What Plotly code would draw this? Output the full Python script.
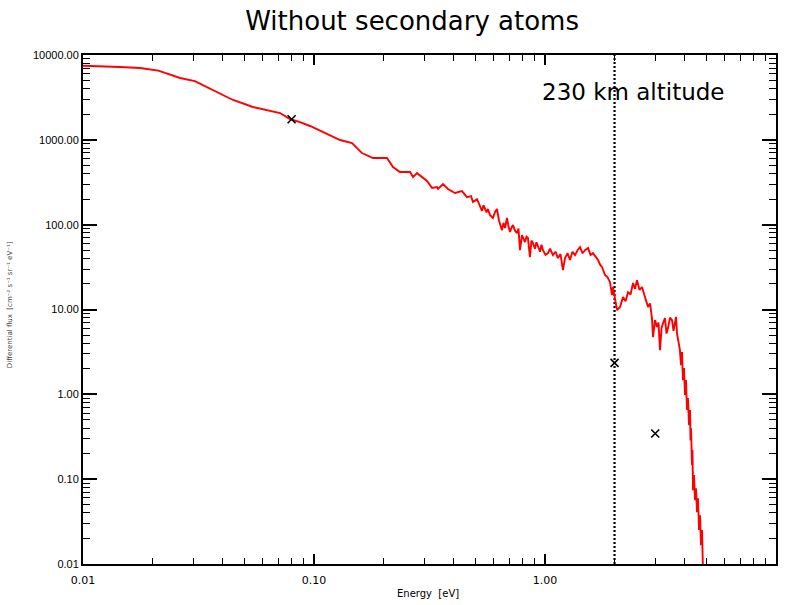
import plotly.graph_objects as go

# Energy spectrum of the fast atoms (eV) and their flux
energy = [
    0.0100, 0.01185, 0.01445, 0.01766, 0.0195, 0.0212, 0.02264, 0.0263, 0.0305, 0.0366,
    0.0446, 0.0544, 0.0665, 0.0713, 0.0787, 0.0869, 0.0961, 0.1173, 0.1297, 0.1462,
    0.1614, 0.1800, 0.2070, 0.2198, 0.2355, 0.2605, 0.2684, 0.2793, 0.3085, 0.3243,
    0.3408, 0.3443, 0.3617, 0.3800, 0.4074, 0.4372, 0.4596, 0.4783, 0.4879, 0.5077,
    0.5337, 0.5418, 0.5496, 0.5579, 0.5662, 0.5776, 0.5952, 0.6072, 0.6196, 0.6321,
    0.6513, 0.6611, 0.6711, 0.6846, 0.6949, 0.7055, 0.7162, 0.7269, 0.7415, 0.7564,
    0.7678, 0.7793, 0.7950, 0.8070, 0.8190, 0.8314, 0.8437, 0.8607, 0.8737, 0.8867,
    0.9045, 0.9182, 0.9330, 0.9517, 0.9661, 0.9803, 1.005, 1.030, 1.051, 1.083,
    1.110, 1.138, 1.167, 1.196, 1.221, 1.252, 1.283, 1.315, 1.349, 1.383,
    1.418, 1.454, 1.490, 1.536, 1.575, 1.614, 1.655, 1.696, 1.730, 1.766,
    1.820, 1.866, 1.912, 1.950, 1.969, 2.009, 2.050, 2.112, 2.177, 2.232,
    2.288, 2.346, 2.405, 2.453, 2.502, 2.565, 2.630, 2.709, 2.793, 2.849,
    2.904, 2.936, 2.995, 3.054, 3.100, 3.147, 3.195, 3.243, 3.307, 3.357,
    3.408, 3.477, 3.546, 3.600, 3.655, 3.692, 3.727, 3.783, 3.838, 3.879,
    3.919, 3.955, 3.998, 4.036, 4.077, 4.118, 4.159, 4.202, 4.245, 4.265,
    4.287, 4.329, 4.351, 4.372, 4.416, 4.461, 4.505, 4.550, 4.596, 4.643,
    4.689, 4.736, 4.786, 4.830,
]
flux = [
    7480, 7410, 7210, 7030, 6840, 6550, 6140, 5360, 4930, 3870,
    2950, 2440, 2190, 2070, 1760, 1620, 1456, 1140, 995, 916,
    698, 610, 610, 477, 417, 417, 364, 405, 327, 271,
    277, 263, 301, 263, 236, 249, 211, 217, 185, 200,
    145, 170, 157, 140, 153, 130, 120, 140, 153, 112,
    86.3, 105, 91.2, 120, 95, 81.9, 92, 98.9, 85, 79.6,
    90, 50.1, 75.3, 68, 62.4, 72, 69.5, 41.5, 65, 60.7,
    52, 62, 54.5, 48, 58, 50.1, 44, 46.2, 52, 43.8,
    48, 40.4, 45, 29.2, 40.4, 46, 38.3, 48, 43.8, 50,
    54.5, 46, 50.1, 53.0, 44, 46.2, 42, 38.3, 34, 31.6,
    25.5, 24, 21.0, 14.8, 18.4, 13, 9.84, 10.7, 14.0, 12.5,
    16.0, 15, 20.5, 17.5, 22.2, 17, 18.4, 14.0, 10.7, 11.8,
    7.93, 4.73, 7.5, 6.20, 7.0, 3.32, 6.0, 6.92, 7.93, 5.2,
    6.04, 8.0, 7.50, 5.6, 6.92, 8.2, 5.27, 4.3, 3.32, 2.21,
    3.15, 1.47, 2.04, 0.98, 1.47, 0.652, 0.902, 0.434, 0.652, 0.288,
    0.399, 0.146, 0.220, 0.0741, 0.1115, 0.0565, 0.0783, 0.0408, 0.0597, 0.0251,
    0.0376, 0.0167, 0.0251, 0.008,
]

# Reference points marked with crosses
cross_energy = [0.08, 2.0, 3.0]
cross_flux = [1750, 2.35, 0.345]

# Energy threshold shown as a dotted vertical line
threshold_energy = 2.0
flux_range = [0.01, 10000]

x_ticks = [0.01, 0.1, 1, 10]
x_ticklabels = ["0.01", "0.10", "1.00", "10.00"]
y_ticks = [0.01, 0.1, 1, 10, 100, 1000, 10000]
y_ticklabels = ["0.01", "0.10", "1.00", "10.00", "100.00", "1000.00", "10000.00"]

# Minor ticks at 2..9 within each decade
x_minor = [k * 10.0 ** d for d in range(-2, 1) for k in range(2, 10)]
y_minor = [k * 10.0 ** d for d in range(-2, 4) for k in range(2, 10)]

fig = go.Figure()

fig.add_trace(go.Scatter(
    x=[threshold_energy, threshold_energy], y=flux_range, mode="lines",
    line=dict(color="black", width=2.2, dash="2px,2px"), hoverinfo="skip",
))

fig.add_trace(go.Scatter(
    x=energy, y=flux, mode="lines",
    line=dict(color="#ff0000", width=1.9),
))

fig.add_trace(go.Scatter(
    x=cross_energy, y=cross_flux, mode="markers",
    marker=dict(symbol="x-thin", size=8, line=dict(color="black", width=1.6)),
))

axis_common = dict(
    type="log",
    showgrid=False,
    zeroline=False,
    showline=True,
    linecolor="black",
    linewidth=2,
    mirror="allticks",
    ticks="inside",
    tickcolor="black",
    tickwidth=1.5,
    automargin=False,
)

fig.update_xaxes(
    **axis_common,
    range=[-2, 1],
    tickvals=x_ticks,
    ticktext=x_ticklabels,
    ticklen=10,
    ticklabelstandoff=5,
    minor=dict(tickvals=x_minor, ticks="inside", ticklen=6, tickcolor="black",
               tickwidth=1.2, showgrid=False),
    tickfont=dict(family="DejaVu Sans", size=11, color="black"),
)

fig.update_yaxes(
    **axis_common,
    range=[-2, 4],
    tickvals=y_ticks,
    ticktext=y_ticklabels,
    ticklen=14,
    minor=dict(tickvals=y_minor, ticks="inside", ticklen=7, tickcolor="black",
               tickwidth=1.2, showgrid=False),
    tickfont=dict(family="Liberation Sans", size=11, color="black"),
)

# Axis titles
fig.add_annotation(
    text="Energy  [eV]", xref="paper", yref="paper", x=0.498, y=-0.057,
    xanchor="center", yanchor="middle", showarrow=False,
    font=dict(family="DejaVu Sans", size=10, color="black"),
)

fig.add_annotation(
    text="Differential flux  [cm⁻² s⁻¹ sr⁻¹ eV⁻¹]", xref="paper", yref="paper",
    x=-0.105, y=0.509, textangle=-90, xanchor="center", yanchor="middle",
    showarrow=False, font=dict(family="DejaVu Sans", size=7, color="#444444"),
)

fig.add_annotation(
    text="230 km altitude", xref="paper", yref="paper", x=0.794, y=0.927,
    xanchor="center", yanchor="middle", showarrow=False,
    font=dict(family="DejaVu Sans", size=23, color="black"),
)

fig.update_layout(
    width=791,
    height=605,
    autosize=False,
    margin=dict(l=83, r=15, t=55, b=41),
    paper_bgcolor="white",
    plot_bgcolor="white",
    showlegend=False,
    title=dict(
        text="Without secondary atoms", xref="container", yref="container",
        x=0.521, y=0.965, xanchor="center", yanchor="middle",
        font=dict(family="DejaVu Sans", size=26, color="black"),
    ),
)

fig.write_html("out.html")
